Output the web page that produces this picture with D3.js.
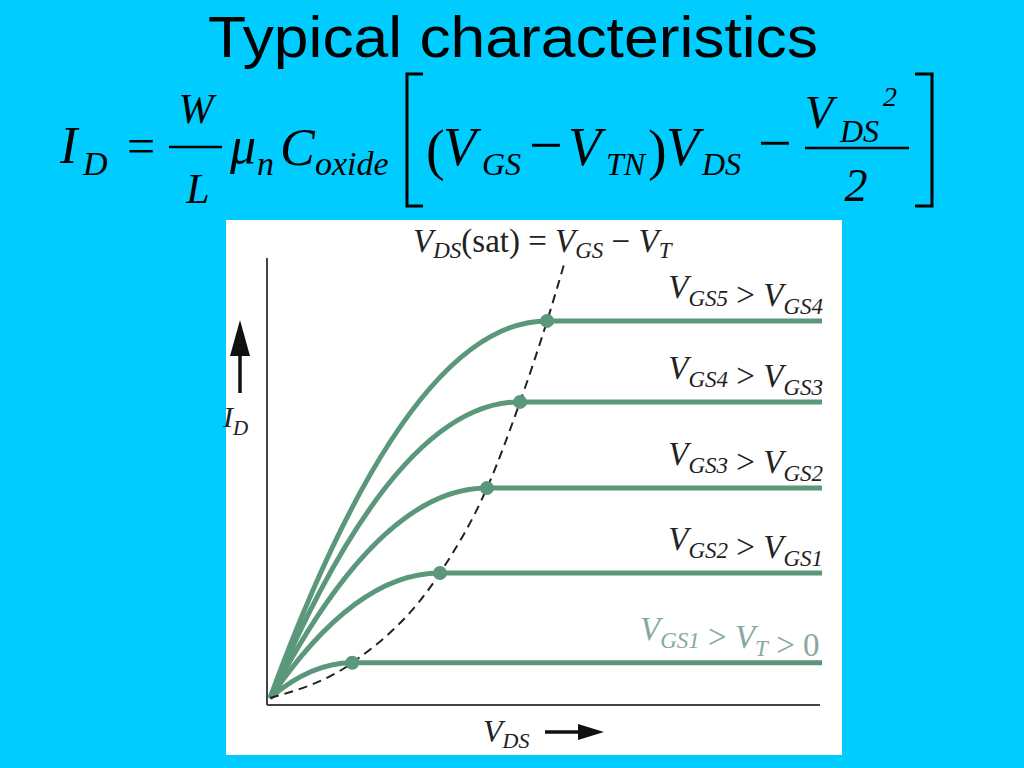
<!DOCTYPE html>
<html>
<head>
<meta charset="utf-8">
<script src="https://cdn.jsdelivr.net/npm/d3@7"></script>
<style>
  html, body { margin: 0; padding: 0; background: #00ccff; }
  svg { display: block; }
</style>
</head>
<body>
<svg id="chart" width="1024" height="768"></svg>
<script>
// ---- data ----
const curveNames = ["VGS1", "VGS2", "VGS3", "VGS4", "VGS5"];
const satVds = [14.9, 30.8, 39.3, 45.3, 50.2];   // V_DS(sat) of each curve
const satId  = [8.0, 28.4, 47.7, 67.3, 85.7];    // saturation current of each curve
const vdsMax = 100;                               // end of the flat part
const dashEnd = [53.4, 99.1];                     // top end of the V_DS(sat) locus
// labels: [main, subscript] pairs joined by relation signs
const curveLabels = [
  [["V","GS1"], " > ", ["V","T"], " > 0"],
  [["V","GS2"], " > ", ["V","GS1"]],
  [["V","GS3"], " > ", ["V","GS2"]],
  [["V","GS4"], " > ", ["V","GS3"]],
  [["V","GS5"], " > ", ["V","GS4"]]
];

const svg = d3.select("#chart");
const serif = "'Liberation Serif', 'Times New Roman', Times, serif";
const sans = "'Liberation Sans', Arial, Helvetica, sans-serif";
const green = "#5b977a";

// ---- title ----
svg.append("text")
  .attr("x", 208).attr("y", 57)
  .attr("font-family", sans).attr("font-size", 57)
  .attr("textLength", 610).attr("lengthAdjust", "spacingAndGlyphs")
  .attr("fill", "#000")
  .text("Typical characteristics");

// ---- equation ----
const eq = svg.append("g").attr("font-family", serif).attr("fill", "#000");
function t(x, y, s, size, italic, anchor) {
  return eq.append("text").attr("x", x).attr("y", y)
    .attr("font-size", size)
    .attr("font-style", italic ? "italic" : "normal")
    .attr("text-anchor", anchor || "start")
    .text(s);
}
const B = 163;   // main baseline
const SB = 175;  // subscript baseline
t(60, B, "I", 52, true);
t(83, SB, "D", 34, true);
t(141, B, "=", 50, false, "middle");
eq.append("line").attr("x1", 169).attr("x2", 222).attr("y1", 147).attr("y2", 147)
  .attr("stroke", "#000").attr("stroke-width", 2.5);
t(196, 123, "W", 42, true, "middle");
t(198, 203, "L", 42, true, "middle");
t(230, B, "\u03bc", 52, true);
t(257, SB, "n", 34, true);
t(280, B + 2, "C", 52, true);
t(315, SB, "oxide", 34, true);
// left bracket
eq.append("path").attr("d", "M423,74 L407,74 L407,206 L423,206")
  .attr("fill", "none").attr("stroke", "#000").attr("stroke-width", 3);
t(426, B + 6, "(", 56, false);
t(443, B + 2, "V", 54, true);
t(482, SB, "GS", 32, true);
t(546, 165, "\u2212", 60, false, "middle");
t(568, B + 2, "V", 54, true);
t(606, SB, "TN", 32, true);
t(648, B + 6, ")", 56, false);
t(666, B + 2, "V", 54, true);
t(702, SB, "DS", 32, true);
t(775, 163, "\u2212", 60, false, "middle");
eq.append("line").attr("x1", 805).attr("x2", 909).attr("y1", 148).attr("y2", 148)
  .attr("stroke", "#000").attr("stroke-width", 2.5);
t(805, 128, "V", 46, true);
t(840, 142, "DS", 32, true);
t(883, 106, "2", 28, true);
t(856, 201, "2", 46, true, "middle");
// right bracket
eq.append("path").attr("d", "M915,74 L932,74 L932,206 L915,206")
  .attr("fill", "none").attr("stroke", "#000").attr("stroke-width", 3);

// ---- chart panel ----
svg.append("rect").attr("x", 226).attr("y", 220).attr("width", 616).attr("height", 535)
  .attr("fill", "#ffffff");

const x = d3.scaleLinear().domain([0, 100]).range([270, 822]);
const y = d3.scaleLinear().domain([0, 100]).range([698, 258]);

// axes (drawn slightly outside the curve origin, as in the figure)
const ax0 = x(0) - 3, ay0 = y(0) + 7;
svg.append("line").attr("x1", ax0).attr("x2", ax0).attr("y1", y(100)).attr("y2", ay0)
  .attr("stroke", "#444").attr("stroke-width", 2);
svg.append("line").attr("x1", ax0).attr("x2", x(vdsMax) - 2).attr("y1", ay0).attr("y2", ay0)
  .attr("stroke", "#444").attr("stroke-width", 2);

// characteristic curves
const curves = svg.append("g");
curveNames.forEach((name, i) => {
  const a = satVds[i], h = satId[i];
  const p = d3.path();
  p.moveTo(x(0), y(0));
  p.quadraticCurveTo(x(a / 2), y(h), x(a), y(h));
  p.lineTo(x(vdsMax), y(h));
  curves.append("path").attr("d", p.toString())
    .attr("fill", "none").attr("stroke", green).attr("stroke-width", 5)
    .attr("stroke-linecap", "butt");
});

// saturation locus (dashed)
const locus = [[0, 0]].concat(satVds.map((v, i) => [v, satId[i]])).concat([dashEnd]);
svg.append("path")
  .attr("d", d3.line().x(d => x(d[0])).y(d => y(d[1])).curve(d3.curveMonotoneX)(locus))
  .attr("fill", "none").attr("stroke", "#222").attr("stroke-width", 2)
  .attr("stroke-dasharray", "9,6");

// saturation dots
svg.append("g").selectAll("circle").data(satVds).join("circle")
  .attr("cx", d => x(d)).attr("cy", (d, i) => y(satId[i])).attr("r", 7)
  .attr("fill", green);

// curve labels
function labelParts(g, parts, mainSize, subSize) {
  const txt = g.append("text");
  parts.forEach(p => {
    if (Array.isArray(p)) {
      txt.append("tspan").attr("font-style", "italic").attr("font-size", mainSize).text(p[0]);
      txt.append("tspan").attr("font-style", "italic").attr("font-size", subSize)
        .attr("dy", 8).text(p[1]);
      txt.append("tspan").attr("font-size", mainSize).attr("dy", -8).text("");
    } else {
      txt.append("tspan").attr("font-size", mainSize).text(p);
    }
  });
  return txt;
}
const lab = svg.append("g").attr("font-family", serif);
curveLabels.forEach((parts, i) => {
  const g = lab.append("g");
  const txt = labelParts(g, parts, 33, 23)
    .attr("y", y(satId[i]) - 23)
    .attr("fill", i === 0 ? "#87a99a" : "#222")
    .style("white-space", "pre");
  if (i === 0) {
    txt.attr("x", 640).attr("text-anchor", "start");
  } else {
    txt.attr("x", 823).attr("text-anchor", "end");
  }
});

// clip to panel for the last label overflow
svg.append("rect").attr("x", 842).attr("y", 220).attr("width", 182).attr("height", 535)
  .attr("fill", "#00ccff");

// locus label on top
const topLabel = lab.append("text").attr("x", 413).attr("y", 252).attr("fill", "#222")
  .style("white-space", "pre");
topLabel.append("tspan").attr("font-style", "italic").attr("font-size", 33).text("V");
topLabel.append("tspan").attr("font-style", "italic").attr("font-size", 23).attr("dy", 6).text("DS");
topLabel.append("tspan").attr("font-size", 33).attr("dy", -6).text("(sat) = ");
topLabel.append("tspan").attr("font-style", "italic").attr("font-size", 33).text("V");
topLabel.append("tspan").attr("font-style", "italic").attr("font-size", 23).attr("dy", 6).text("GS");
topLabel.append("tspan").attr("font-size", 33).attr("dy", -6).text(" \u2212 ");
topLabel.append("tspan").attr("font-style", "italic").attr("font-size", 33).text("V");
topLabel.append("tspan").attr("font-style", "italic").attr("font-size", 23).attr("dy", 6).text("T");

// axis titles
const idLabel = lab.append("text").attr("x", 223).attr("y", 427).attr("fill", "#222");
idLabel.append("tspan").attr("font-style", "italic").attr("font-size", 30).text("I");
idLabel.append("tspan").attr("font-style", "italic").attr("font-size", 21).attr("dy", 8).text("D");
svg.append("line").attr("x1", 240).attr("x2", 240).attr("y1", 350).attr("y2", 393)
  .attr("stroke", "#111").attr("stroke-width", 3.5);
svg.append("path").attr("d", "M240,320 L250,356 L230,356 Z").attr("fill", "#111");

const vdLabel = lab.append("text").attr("x", 483).attr("y", 742).attr("fill", "#222");
vdLabel.append("tspan").attr("font-style", "italic").attr("font-size", 32).text("V");
vdLabel.append("tspan").attr("font-style", "italic").attr("font-size", 22).attr("dy", 6).text("DS");
svg.append("line").attr("x1", 545).attr("x2", 585).attr("y1", 732).attr("y2", 732)
  .attr("stroke", "#111").attr("stroke-width", 3.5);
svg.append("path").attr("d", "M604,732 L578,724 L578,740 Z").attr("fill", "#111");
</script>
</body>
</html>
